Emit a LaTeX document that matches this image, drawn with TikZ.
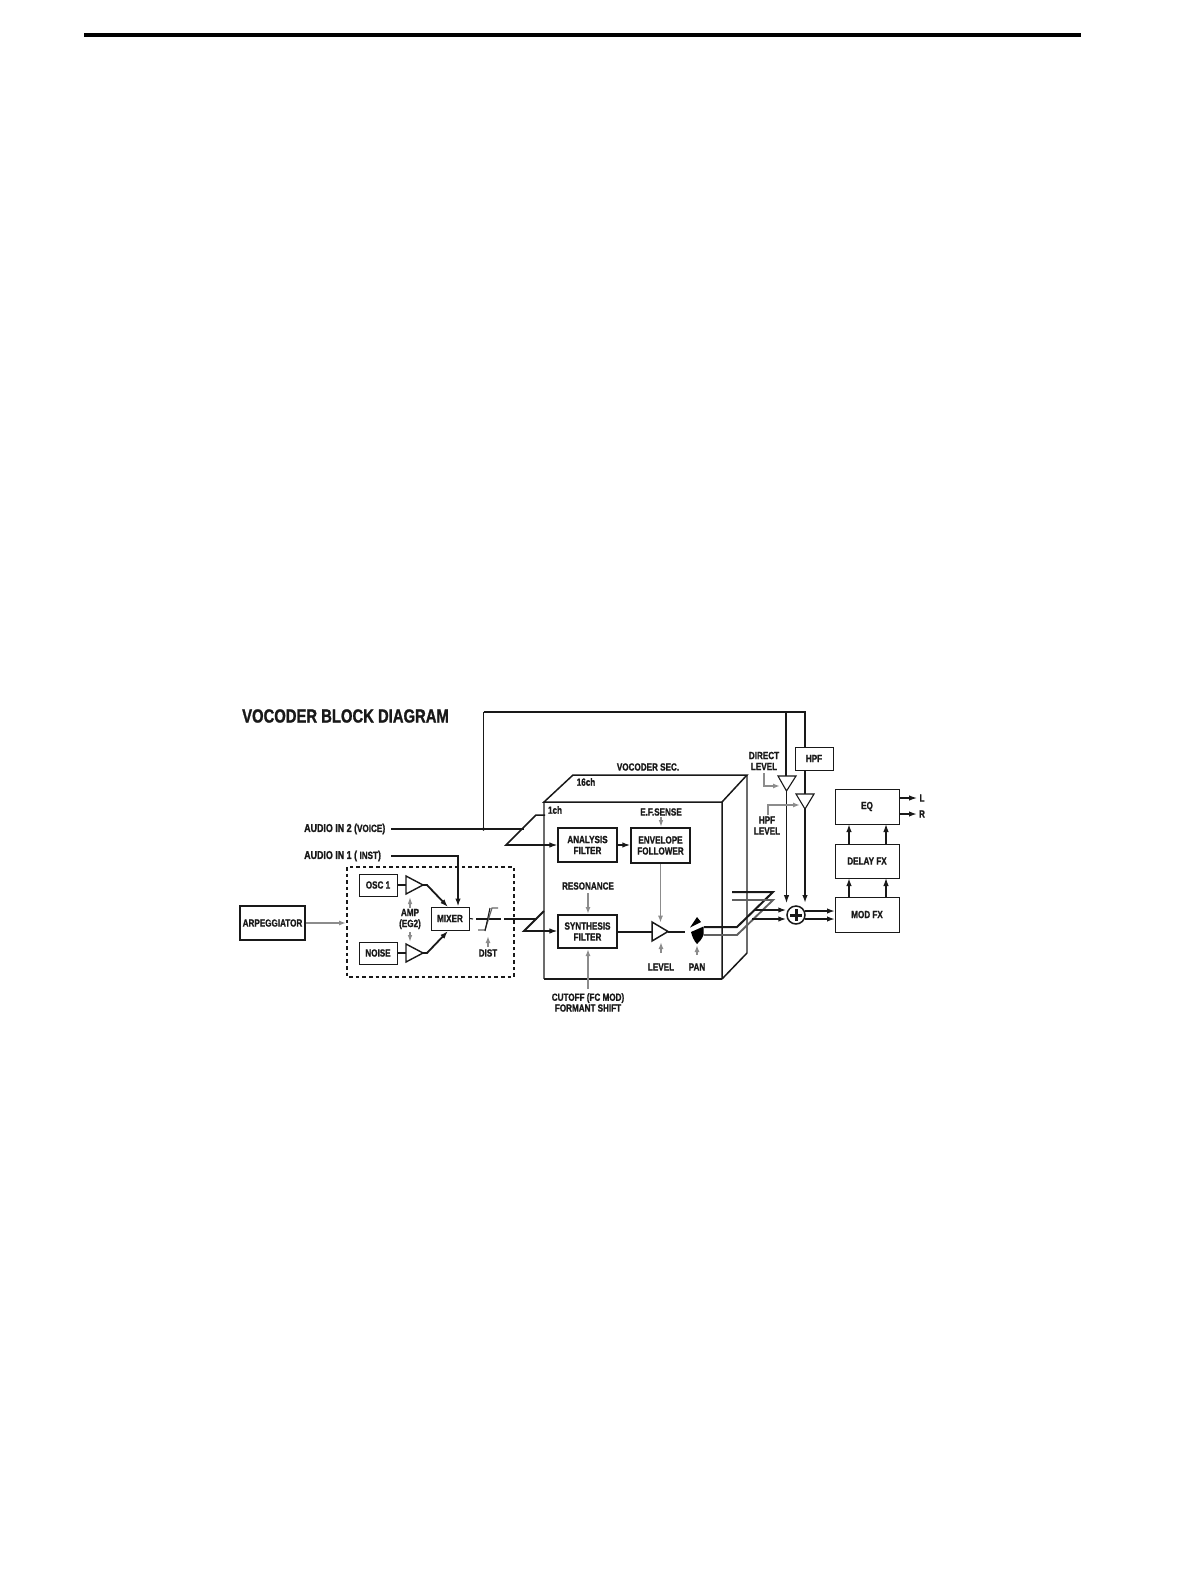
\documentclass[tikz,border=0pt]{standalone}
\usepackage{fontspec}
\setmainfont{Liberation Sans}[FakeStretch=0.78,BoldFeatures={FakeStretch=0.78,FakeBold=1.2}]
\usetikzlibrary{arrows.meta}
\definecolor{ink}{gray}{0.1}
\definecolor{gr}{gray}{0.55}
\tikzset{
  thinl/.style={draw=ink,line width=1.1pt},
  thickl/.style={draw=ink,line width=2pt},
  grayl/.style={draw=gr,line width=1.6pt},
  tip/.style={-{Latex[length=8pt,width=5.5pt]}},
  grtip/.style={-{Latex[length=7pt,width=5pt]}},
  dbl/.style={-{Latex[length=7pt,width=4.6pt]}},
  lab/.style={font=\bfseries\fontsize{10.4}{11}\selectfont,text=ink,inner sep=0pt,align=center},
  blockn/.style={draw=ink,line width=0.95pt,inner sep=0pt,align=center,font=\bfseries\fontsize{10.4}{11}\selectfont,text=ink},
  ampn/.style={draw=ink,line width=1.1pt,fill=white}
}
\begin{document}
\begin{tikzpicture}[x=1pt,y=-1pt]
\useasboundingbox (0,0) rectangle (1193,1585);
\fill[white] (0,0) rectangle (1193,1585);
\coordinate (ruleL) at (84,35); \coordinate (ruleR) at (1081,35);
\draw[line width=3.6pt,draw=black] (ruleL)--(ruleR);

\node[lab,anchor=west,font=\bfseries\fontsize{19}{20}\selectfont] (title) at (242,716) {VOCODER BLOCK DIAGRAM};

% 3D box
\coordinate (fTL) at (544,802); \coordinate (fTR) at (722,802); \coordinate (fBR) at (722,979); \coordinate (fBL) at (544,979);
\coordinate (bTL) at (573,775); \coordinate (bTR) at (747,775); \coordinate (bBR) at (747,953);
\draw[grayl,line width=1.8pt,draw=gray!85!black] (bTR)--(bBR);
\draw[grayl,line width=1.8pt,draw=gray!85!black] (fTL)--(fBL);
\draw[thinl,line width=1.5pt] (bBR)--(fBR);
\draw[thinl,line width=1.7pt] (fBL)--(fBR);
\draw[thinl,line width=1.5pt] (fBR)--(fTR)--(fTL)--(bTL)--(bTR)--(fTR);

% top feed
\coordinate (topA) at (483.5,712); \coordinate (topD) at (786,712); \coordinate (topH) at (805,712);
\coordinate (in2s) at (391,829); \coordinate (in2j) at (483.5,829); \coordinate (in2e) at (524,829);
\draw[thinl] (in2s)--(in2e);
\fill[ink] (in2j) circle (1.8pt);
\draw[thinl] (in2j)--(topA);
\draw[thickl] (topA)--(topH)--(805,748);

% slanted input 1 (analysis)
\coordinate (p1a) at (506,845); \coordinate (p1b) at (536,815); \coordinate (p1c) at (545,815);
\draw[thinl,line width=1.5pt,line join=miter] (p1c)--(p1b)--(p1a)--(530,845);

\node[lab,anchor=west,font=\bfseries\fontsize{11.4}{12}\selectfont] (in2l) at (304,829) {AUDIO IN 2 ({\fontsize{10.4}{11}\selectfont VOICE})};
\node[lab,anchor=west,font=\bfseries\fontsize{11.4}{12}\selectfont] (in1l) at (304,856) {AUDIO IN 1 ( {\fontsize{10.4}{11}\selectfont INST})};
\node[lab] (vsec) at (648,767) {VOCODER SEC.};
\node[lab] (ch16) at (586,782) {16ch};
\node[lab] (ch1) at (555,810) {1ch};
\node[lab] (efs) at (661,812) {E.F.SENSE};
\node[lab] (res) at (588,886) {RESONANCE};
\node[lab] (lvl) at (661,967) {LEVEL};
\node[lab] (pan) at (697,967) {PAN};
\node[lab] (cut) at (588,1002.5) {CUTOFF (FC MOD)\\[-0.2pt]FORMANT SHIFT};
\node[lab] (dlv) at (764,761) {DIRECT\\LEVEL};
\node[lab] (hlv) at (767,825.5) {HPF\\LEVEL};
\node[lab] (amp) at (410,919) {AMP\\(EG2)};
\node[lab] (dist) at (488,953) {DIST};
\node[lab] (ll) at (922,798) {L};
\node[lab] (rl) at (922,814) {R};

% dashed group
\draw[draw=ink,line width=1.6pt,dash pattern=on 3.6pt off 3pt] (347,867) rectangle (514,977);

% blocks
\node[blockn,line width=1.8pt,minimum width=65pt,minimum height=34pt] (arp) at (272.5,923) {ARPEGGIATOR};
\node[blockn,minimum width=38pt,minimum height=22pt] (osc) at (378,885) {OSC 1};
\node[blockn,minimum width=38pt,minimum height=22pt] (noise) at (378,953) {NOISE};
\node[blockn,minimum width=38pt,minimum height=23pt] (mix) at (450,918.5) {MIXER};
\node[blockn,line width=1.4pt,minimum width=59pt,minimum height=34pt] (ana) at (587.5,845) {ANALYSIS\\FILTER};
\node[blockn,line width=1.4pt,minimum width=59pt,minimum height=35pt] (env) at (660.5,845.5) {ENVELOPE\\FOLLOWER};
\node[blockn,line width=1.4pt,minimum width=59pt,minimum height=33pt] (syn) at (587.5,931.5) {SYNTHESIS\\FILTER};
\node[blockn,minimum width=38pt,minimum height=23pt] (hpf) at (814,758.5) {HPF};
\node[blockn,minimum width=64pt,minimum height=35pt] (eq) at (867,806.5) {EQ};
\node[blockn,minimum width=64pt,minimum height=34pt] (dly) at (867,861) {DELAY FX};
\node[blockn,minimum width=64pt,minimum height=35pt] (mod) at (867,914.5) {MOD FX};

% slanted input 2 (synthesis)
\coordinate (p2a) at (524,931); \coordinate (p2b) at (544,911);
\draw[thinl,line width=1.9pt,line join=miter] (p2b)--(p2a)--(530,931);

% analysis / synth arrows
\draw[thinl,tip] (p1a)--(ana.west|-p1a);
\draw[thinl,tip] (p2a)--(syn.west|-p2a);
\draw[thinl,line width=1.5pt,tip] (ana.east)--(ana.east-|env.west);

% audio in 1
\coordinate (in1s) at (391,856); \coordinate (in1c) at (458,856);
\draw[thickl,tip] (in1s)--(in1c)--(mix.north-|in1c);

% amps
\draw[ampn,line width=1.4pt] (406,876)--(423,885)--(406,894)--cycle;
\draw[ampn,line width=1.4pt] (406,944)--(423,953)--(406,962)--cycle;
\coordinate (ao1) at (406,885); \coordinate (ao2) at (423,885); \coordinate (an1) at (406,953); \coordinate (an2) at (423,953);
\draw[thinl] (osc.east)--(ao1);
\draw[thickl] (noise.east)--(an1);
\coordinate (mo) at (448,907); \coordinate (mn) at (448,931);
\draw[thickl,line width=1.8pt,tip] (ao2)--(427,885)--(mo);
\draw[thickl,line width=1.8pt,tip] (an2)--(427,953)--(mn);
\draw[grayl,line width=1.2pt,dbl] (410,908)--(410,897);
\draw[grayl,line width=1.2pt,dbl] (410,932)--(410,942);

% arp
\draw[grayl,grtip] (arp.east)--(346,923);

% dist
\draw[thinl] (mix.east)--(473,919);
\draw[thinl] (476,919)--(501,919);
\draw[grayl,line width=1.2pt,draw=gray!80!black] (478,930)--(485,930)--(492,908)--(498,908);
\draw[thinl] (485,931)--(490,908);
\draw[grayl,grtip] (488,947)--(488,936);
\coordinate (dout) at (504,919);
\draw[thickl] (dout)--(537,919);

% gray mod arrows
\draw[grayl,line width=1.2pt,dbl] (661,817)--(661,827);
\draw[grayl,grtip] (env.south)--++(0,59);
\draw[grayl,grtip] (588,893)--(588,914);
\draw[grayl,line width=1.8pt,grtip] (588,989)--(588,949);
\draw[grayl,grtip] (661,953)--(661,942);
\draw[grayl,grtip] (697,955)--(697,945);

% level amp
\draw[thickl] (syn.east)--(652,931.5);
\draw[ampn,line width=1.5pt] (652,922)--(668,931.5)--(652,941)--cycle;
\coordinate (panin) at (685,931.5);
\draw[thickl] (668,931.5)--(panin);

% pan
\fill[black] (697,917)--(701,922)--(690,927.5)--cycle;
\fill[black] (691,932)--(703.5,926.5)--(703.5,935) .. controls (702,939) and (700,941) .. (697,944) .. controls (694,941) and (692,936) .. (691,932)--cycle;

% channel outs
\draw[thickl] (704,927)--(737,927)--(773,892)--(732,892);
\draw[grayl,line width=1.9pt,draw=gray!75!black] (704,935)--(737,935)--(773,900)--(732,900);

% sum
\node[draw=ink,line width=1.5pt,circle,minimum size=18pt,inner sep=0pt,fill=white] (sum) at (796,915) {};
\draw[draw=ink,line width=3pt] (790,915)--(802,915) (796,909)--(796,921);
\coordinate (s1) at (754,910); \coordinate (s2) at (752,919);
\draw[thinl,line width=1.5pt,tip] (s1)--(sum.west|-s1);
\draw[thinl,line width=1.5pt,tip] (s2)--(sum.west|-s2);
\draw[thickl,line width=1.8pt,tip] (805,911)--(835,911);
\draw[thickl,line width=1.8pt,tip] (805,919)--(835,919);

% direct / hpf amps
\draw[thickl] (topD)--(786,776);
\draw[ampn] (778,776)--(796,776)--(786.5,791)--cycle;
\draw[thinl,tip] (786.5,791)--(786.5,903);
\draw[thickl,line width=1.8pt] (hpf.south-|topH)--(805,794);
\draw[ampn] (796,794)--(814,794)--(805,809)--cycle;
\draw[thickl,tip] (805,809)--(805,903);
\draw[grayl,grtip] (764,773)--(764,786)--(780,786);
\draw[grayl,grtip] (768,815)--(768,805)--(800,805);

% fx chain
\draw[thickl,tip] (849,897)--(849,878);
\draw[thinl,line width=1.2pt,tip] (886,897)--(886,878);
\draw[thickl,tip] (849,844)--(849,824);
\draw[thinl,line width=1.2pt,tip] (886,844)--(886,824);
\draw[thinl,line width=1.2pt,tip] (899,798)--(917,798);
\draw[thickl,tip] (899,814)--(917,814);
\end{tikzpicture}
\end{document}
